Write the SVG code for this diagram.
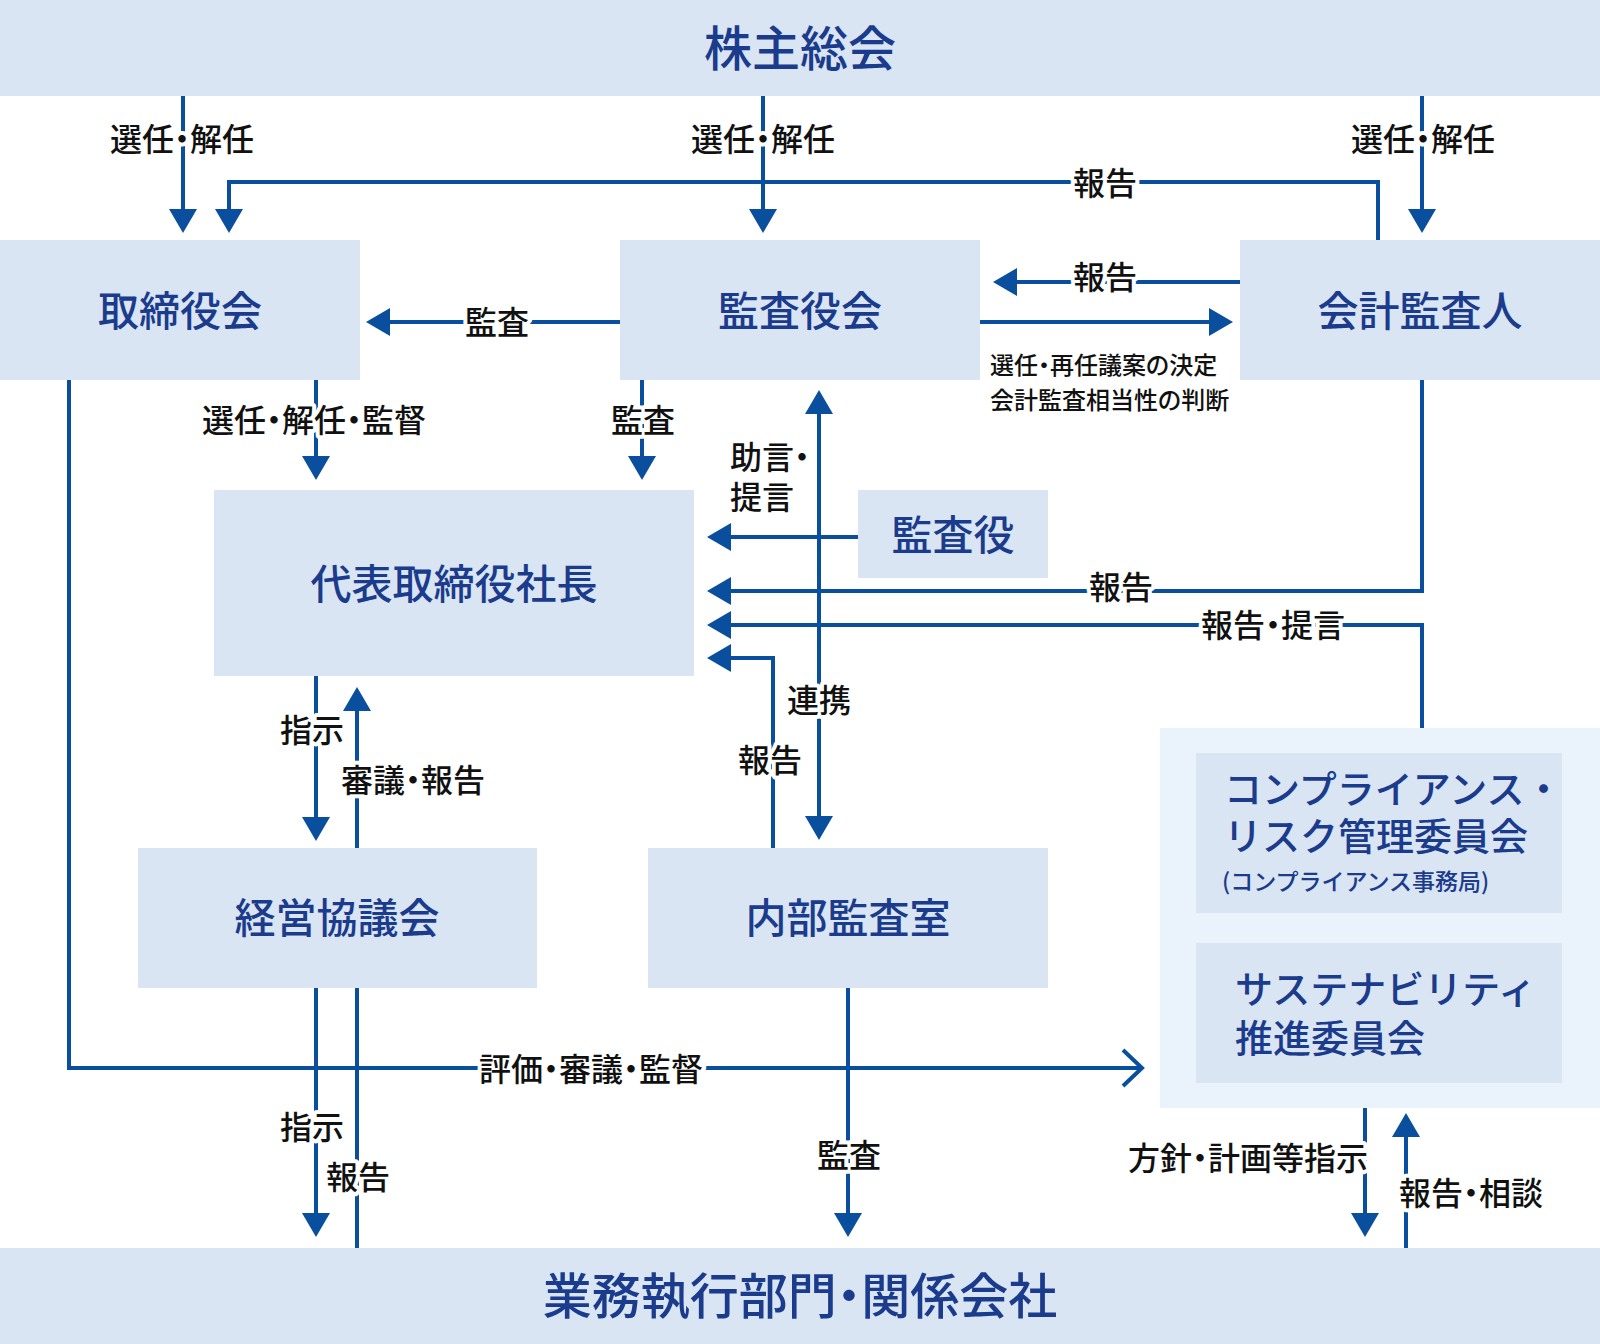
<svg xmlns="http://www.w3.org/2000/svg" width="1600" height="1344" viewBox="0 0 1600 1344">
<style>
.box{fill:#d9e5f3}
.grp{fill:#eaf2fc}
.ttl{font-family:"Noto Sans CJK JP","Noto Sans",sans-serif;font-weight:500;fill:#1b3b8c;text-anchor:middle}
.n{font-size:41px}
.big{font-size:48px}
.cm{font-size:38px;text-anchor:start}
.sm{font-size:23px}
.lbl{font-family:"Noto Sans CJK JP","Noto Sans",sans-serif;font-weight:500;font-size:32px;fill:#111;text-anchor:middle;stroke:#fff;stroke-width:8px;stroke-linejoin:round;paint-order:stroke;font-feature-settings:"palt"}
.note{font-family:"Noto Sans CJK JP","Noto Sans",sans-serif;font-weight:500;font-size:24px;fill:#111;font-feature-settings:"palt"}
.c{fill:none;stroke:#0a4f9e;stroke-width:4}
.a{marker-end:url(#ah)}
</style>
<defs>
<marker id="ah" viewBox="0 0 24 28" refX="18" refY="14" markerWidth="24" markerHeight="28" markerUnits="userSpaceOnUse" orient="auto-start-reverse"><path d="M0,0 L24,14 L0,28 Z" fill="#0a4f9e"/></marker>
<marker id="ch" viewBox="-3 -3 26 42" refX="19" refY="18" markerWidth="26" markerHeight="42" markerUnits="userSpaceOnUse" orient="auto"><path d="M0,0 L19,18 L0,36" fill="none" stroke="#0a4f9e" stroke-width="4"/></marker>
</defs>
<rect width="1600" height="1344" fill="#fff"/>

<g id="connectors">
<path class="c a" d="M183,96 V227"/>
<path class="c a" d="M763,96 V227"/>
<path class="c a" d="M1422,96 V227"/>
<path class="c a" d="M1378,240 V182 H229 V227"/>
<path class="c a" d="M980,322 H1227"/>
<path class="c a" d="M1240,282 H999"/>
<path class="c a" d="M620,322 H372"/>
<path class="c" d="M69,380 V1068 H1142" marker-end="url(#ch)"/>
<path class="c a" d="M316,380 V474"/>
<path class="c a" d="M642,380 V474"/>
<path class="c a" d="M819,396 V834" marker-start="url(#ah)"/>
<path class="c a" d="M858,537 H713"/>
<path class="c a" d="M1422,380 V591 H713"/>
<path class="c a" d="M1422,728 V625 H713"/>
<path class="c a" d="M773,848 V658 H713"/>
<path class="c a" d="M316,676 V835"/>
<path class="c a" d="M357,848 V693"/>
<path class="c a" d="M316,988 V1231"/>
<path class="c" d="M357,988 V1248"/>
<path class="c a" d="M848,988 V1231"/>
<path class="c a" d="M1365,1108 V1231"/>
<path class="c a" d="M1406,1248 V1119"/>
<text class="lbl" x="182" y="151">選任・解任</text>
<text class="lbl" x="763" y="151">選任・解任</text>
<text class="lbl" x="1423" y="151">選任・解任</text>
<text class="lbl" x="1105" y="195">報告</text>
<text class="lbl" x="1105" y="289">報告</text>
<text class="note" x="990" y="374">選任・再任議案の決定</text>
<text class="note" x="990" y="409">会計監査相当性の判断</text>
<text class="lbl" x="497" y="334">監査</text>
<text class="lbl" x="314" y="432">選任・解任・監督</text>
<text class="lbl" x="643" y="432">監査</text>
<text class="lbl" x="730" y="469" style="text-anchor:start">助言・</text>
<text class="lbl" x="730" y="509" style="text-anchor:start">提言</text>
<text class="lbl" x="1121" y="599">報告</text>
<text class="lbl" x="1273" y="637">報告・提言</text>
<text class="lbl" x="819" y="712">連携</text>
<text class="lbl" x="770" y="772">報告</text>
<text class="lbl" x="312" y="742">指示</text>
<text class="lbl" x="413" y="792">審議・報告</text>
<text class="lbl" x="591" y="1081">評価・審議・監督</text>
<text class="lbl" x="312" y="1139">指示</text>
<text class="lbl" x="358" y="1189">報告</text>
<text class="lbl" x="849" y="1167">監査</text>
<text class="lbl" x="1248" y="1170">方針・計画等指示</text>
<text class="lbl" x="1471" y="1205">報告・相談</text>
</g>

<g id="shareholders">
<rect class="box" x="0" y="0" width="1600" height="96"/>
<text class="ttl big" x="800" y="66">株主総会</text>
</g>
<g id="board">
<rect class="box" x="0" y="240" width="360" height="140"/>
<text class="ttl n" x="180" y="326">取締役会</text>
</g>
<g id="audit-board">
<rect class="box" x="620" y="240" width="360" height="140"/>
<text class="ttl n" x="800" y="326">監査役会</text>
</g>
<g id="accounting-auditor">
<rect class="box" x="1240" y="240" width="360" height="140"/>
<text class="ttl n" x="1420" y="326">会計監査人</text>
</g>
<g id="president">
<rect class="box" x="214" y="490" width="480" height="186"/>
<text class="ttl n" x="454" y="599">代表取締役社長</text>
</g>
<g id="auditor">
<rect class="box" x="858" y="490" width="190" height="88"/>
<text class="ttl n" x="953" y="550">監査役</text>
</g>
<g id="management-council">
<rect class="box" x="138" y="848" width="399" height="140"/>
<text class="ttl n" x="337" y="933">経営協議会</text>
</g>
<g id="internal-audit">
<rect class="box" x="648" y="848" width="400" height="140"/>
<text class="ttl n" x="848" y="933">内部監査室</text>
</g>
<g id="committees">
<rect class="grp" x="1160" y="728" width="440" height="380"/>
<g id="compliance">
<rect class="box" x="1196" y="753" width="366" height="160"/>
<text class="ttl cm" x="1224" y="803">コンプライアンス・<tspan x="1224" dy="47">リスク管理委員会</tspan><tspan class="sm" x="1222" dy="40">(コンプライアンス事務局)</tspan></text>
</g>
<g id="sustainability">
<rect class="box" x="1196" y="943" width="366" height="140"/>
<text class="ttl cm" x="1235" y="1003">サステナビリティ<tspan x="1235" dy="49">推進委員会</tspan></text>
</g>
</g>
<g id="operations">
<rect class="box" x="0" y="1248" width="1600" height="96"/>
<text class="ttl" style="font-size:49px;font-feature-settings:'palt'" x="800" y="1314">業務執行部門・関係会社</text>
</g>
</svg>
